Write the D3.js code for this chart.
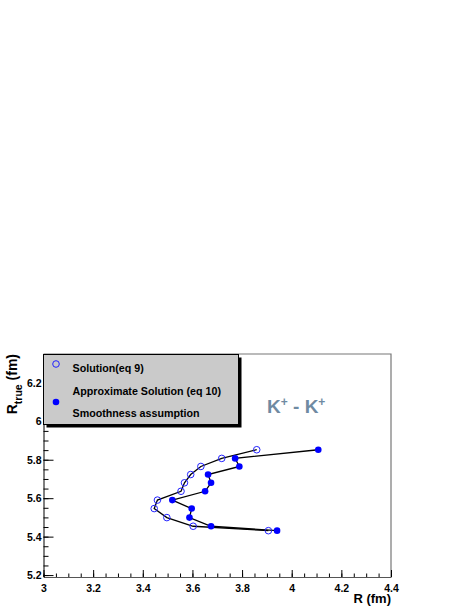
<!DOCTYPE html>
<html>
<head>
<meta charset="utf-8">
<script src="https://cdn.jsdelivr.net/npm/d3@7"></script>
<style>
  body { margin: 0; background: #fff; }
  svg { font-family: "Liberation Sans", Arial, sans-serif; font-weight: bold; }
</style>
</head>
<body>
<div id="chart"></div>
<script>
// data
var solR    = [3.859, 3.718, 3.634, 3.593, 3.568, 3.554, 3.459, 3.446, 3.497, 3.603, 3.906];
var solRtrue = [5.852, 5.807, 5.765, 5.723, 5.680, 5.636, 5.590, 5.546, 5.499, 5.454, 5.431];
var appR    = [4.107, 3.772, 3.789, 3.663, 3.675, 3.651, 3.519, 3.597, 3.588, 3.675, 3.941];
var appRtrue = [5.852, 5.807, 5.765, 5.723, 5.680, 5.636, 5.590, 5.546, 5.499, 5.454, 5.431];
var xTicks = [3, 3.2, 3.4, 3.6, 3.8, 4, 4.2, 4.4];
var yTicks = [5.2, 5.4, 5.6, 5.8, 6, 6.2];

var svgWidth = 469, svgHeight = 607;
var frame = { left: 43.5, right: 391, top: 354, bottom: 577 };

var svg = d3.select("#chart")
  .append("svg")
  .attr("width", svgWidth)
  .attr("height", svgHeight);

var x = d3.scaleLinear().domain([3, 4.4]).range([frame.left, frame.right]);
var y = d3.scaleLinear().domain([5.19, 6.35]).range([frame.bottom, frame.top]);

// frame (top + right)
svg.append("path")
  .attr("d", `M${frame.left},${frame.top}H${frame.right}V${frame.bottom}`)
  .attr("fill", "none")
  .attr("stroke", "#777")
  .attr("stroke-width", 1.2);

// minor ticks
var xMinor = d3.range(3, 4.4001, 0.05);
var yMinor = d3.range(5.2, 6.35, 0.05);

svg.append("g")
  .attr("transform", `translate(0,${frame.bottom})`)
  .call(d3.axisBottom(x).tickValues(xMinor).tickSizeInner(-3.5).tickSizeOuter(0).tickFormat(""))
  .call(g => g.select(".domain").remove());

svg.append("g")
  .attr("transform", `translate(${frame.left},0)`)
  .call(d3.axisLeft(y).tickValues(yMinor).tickSizeInner(-5).tickSizeOuter(0).tickFormat(""))
  .call(g => g.select(".domain").remove());

// major axes
var xAxis = svg.append("g")
  .attr("transform", `translate(0,${frame.bottom})`)
  .call(d3.axisBottom(x).tickValues(xTicks).tickSizeInner(-7).tickSizeOuter(0).tickPadding(8)
    .tickFormat(d3.format("")));
xAxis.select(".domain").attr("stroke", "#555");
xAxis.selectAll("text").attr("font-size", 10.5).attr("font-weight", "bold").attr("fill", "#000");

var yAxis = svg.append("g")
  .attr("transform", `translate(${frame.left},0)`)
  .call(d3.axisLeft(y).tickValues(yTicks).tickSizeInner(-10).tickSizeOuter(0).tickPadding(2)
    .tickFormat(d3.format("")));
yAxis.selectAll("text").attr("font-size", 10.5).attr("font-weight", "bold").attr("fill", "#000");

// axis titles
svg.append("text")
  .attr("x", frame.right)
  .attr("y", 603)
  .attr("text-anchor", "end")
  .attr("font-size", 13)
  .text("R (fm)");

var yTitle = svg.append("text")
  .attr("transform", "translate(17,354) rotate(-90)")
  .attr("text-anchor", "end")
  .attr("font-size", 14);
yTitle.append("tspan").text("R");
yTitle.append("tspan").attr("font-size", 10.5).attr("dy", 5).text("true");
yTitle.append("tspan").attr("dy", -5).text(" (fm)");

// lines
var line = d3.line();
svg.append("path")
  .attr("d", line(solR.map((d, i) => [x(d), y(solRtrue[i])])))
  .attr("fill", "none").attr("stroke", "#000").attr("stroke-width", 1.3);
svg.append("path")
  .attr("d", line(appR.map((d, i) => [x(d), y(appRtrue[i])])))
  .attr("fill", "none").attr("stroke", "#000").attr("stroke-width", 1.3);

// markers
svg.selectAll("circle.sol").data(solR).enter()
  .append("circle")
  .attr("class", "sol")
  .attr("cx", d => x(d))
  .attr("cy", (d, i) => y(solRtrue[i]))
  .attr("r", 3.3)
  .attr("fill", "none")
  .attr("stroke", "#2222ff")
  .attr("stroke-width", 1);

svg.selectAll("circle.app").data(appR).enter()
  .append("circle")
  .attr("class", "app")
  .attr("cx", d => x(d))
  .attr("cy", (d, i) => y(appRtrue[i]))
  .attr("r", 3.3)
  .attr("fill", "#0000ff");

// legend
var legend = svg.append("g");
legend.append("rect")
  .attr("x", 46.5).attr("y", 357.5).attr("width", 195).attr("height", 70)
  .attr("fill", "#000");
legend.append("rect")
  .attr("x", 43.5).attr("y", 354.5).attr("width", 195).attr("height", 70)
  .attr("fill", "#cacaca").attr("stroke", "#000").attr("stroke-width", 1);
legend.append("circle")
  .attr("cx", 56).attr("cy", 364).attr("r", 3.3)
  .attr("fill", "none").attr("stroke", "#2222ff").attr("stroke-width", 1);
legend.append("circle")
  .attr("cx", 56).attr("cy", 402).attr("r", 3.3)
  .attr("fill", "#0000ff");
[["Solution(eq 9)", 372], ["Approximate Solution (eq 10)", 395], ["Smoothness assumption", 417]]
  .forEach(function(t) {
    legend.append("text")
      .attr("x", 72.5).attr("y", t[1])
      .attr("font-size", 10.7)
      .text(t[0]);
  });

// K+ - K+ label
var kk = svg.append("text")
  .attr("x", 267).attr("y", 412.5)
  .attr("font-size", 19)
  .attr("fill", "#6f8aa2");
kk.append("tspan").text("K");
kk.append("tspan").attr("font-size", 12).attr("dy", -7).text("+");
kk.append("tspan").attr("dy", 7).text(" - K");
kk.append("tspan").attr("font-size", 12).attr("dy", -7).text("+");
</script>
</body>
</html>
